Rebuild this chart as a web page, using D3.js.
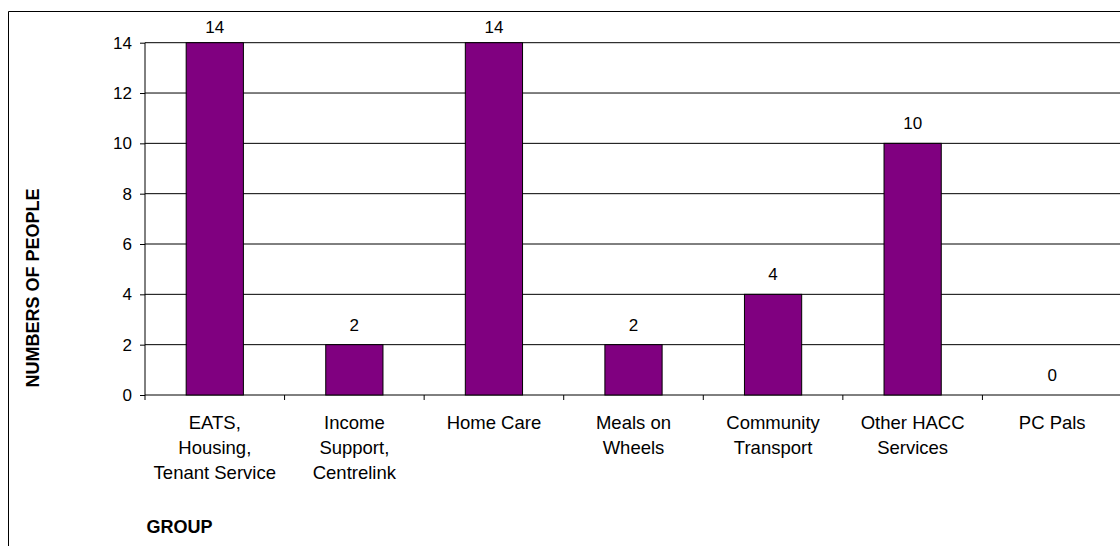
<!DOCTYPE html>
<html>
<head>
<meta charset="utf-8">
<script src="https://cdn.jsdelivr.net/npm/d3@7"></script>
<style>
  html, body { margin: 0; padding: 0; background: #fff; }
  svg { display: block; }
  text { font-family: "Liberation Sans", Arial, sans-serif; fill: #000; }
</style>
</head>
<body>
<svg id="chart" width="1120" height="546"></svg>
<script>
const categories = [
  "EATS, Housing, Tenant Service",
  "Income Support, Centrelink",
  "Home Care",
  "Meals on Wheels",
  "Community Transport",
  "Other HACC Services",
  "PC Pals"
];
const categoryLines = [
  ["EATS,", "Housing,", "Tenant Service"],
  ["Income", "Support,", "Centrelink"],
  ["Home Care"],
  ["Meals on", "Wheels"],
  ["Community", "Transport"],
  ["Other HACC", "Services"],
  ["PC Pals"]
];
const values = [14, 2, 14, 2, 4, 10, 0];
const yTicks = [0, 2, 4, 6, 8, 10, 12, 14];
const yTitle = "NUMBERS OF PEOPLE";
const xTitle = "GROUP";

const svg = d3.select("#chart");
const W = 1120, H = 546;

const plot = { left: 145, right: 1122, top: 42.7, bottom: 395 };

const x = d3.scaleBand().domain(categories).range([plot.left, plot.right]).padding(0);
const y = d3.scaleLinear().domain([0, 14]).range([plot.bottom, plot.top]);

// outer border (left + top visible)
svg.append("path")
  .attr("d", `M8.5,${H + 2} L8.5,11.5 L${W + 2},11.5`)
  .attr("fill", "none").attr("stroke", "#000").attr("stroke-width", 1);

// gridlines
svg.append("g").selectAll("line").data(yTicks.filter(d => d > 0)).join("line")
  .attr("x1", plot.left).attr("x2", plot.right)
  .attr("y1", d => y(d)).attr("y2", d => y(d))
  .attr("stroke", "#000").attr("stroke-width", 1);

// y axis
const yAxis = d3.axisLeft(y).tickValues(yTicks).tickSize(5).tickPadding(8).tickFormat(d3.format("d"));
const gy = svg.append("g").attr("transform", `translate(${plot.left},0)`).call(yAxis);
gy.select(".domain").attr("d", `M0,${plot.bottom}V${plot.top}`).attr("stroke", "#000");
gy.selectAll(".tick line").attr("stroke", "#000").attr("x2", -5);
gy.selectAll(".tick text").attr("font-size", "17px").attr("font-family", "Liberation Sans, Arial, sans-serif").attr("fill", "#000");

// x axis (ticks at band boundaries)
svg.append("line")
  .attr("x1", plot.left).attr("x2", plot.right)
  .attr("y1", plot.bottom).attr("y2", plot.bottom)
  .attr("stroke", "#000");
svg.append("g").selectAll("line").data(categories).join("line")
  .attr("x1", d => x(d)).attr("x2", d => x(d))
  .attr("y1", plot.bottom).attr("y2", plot.bottom + 5)
  .attr("stroke", "#000");

// bars
const barFrac = 0.41;
const bw = x.bandwidth() * barFrac;
svg.append("g").selectAll("rect").data(values).join("rect")
  .attr("x", (d, i) => x(categories[i]) + (x.bandwidth() - bw) / 2)
  .attr("width", bw)
  .attr("y", d => y(d))
  .attr("height", d => y(0) - y(d))
  .attr("fill", "#800080")
  .attr("stroke", "#000").attr("stroke-width", 1)
  .style("display", d => d > 0 ? null : "none");

// value labels
svg.append("g").selectAll("text").data(values).join("text")
  .attr("x", (d, i) => x(categories[i]) + x.bandwidth() / 2)
  .attr("y", d => Math.max(y(d) - 14, 33))
  .attr("text-anchor", "middle")
  .attr("font-size", "17px")
  .text(d => d);

// category labels
const cl = svg.append("g");
categoryLines.forEach((lines, i) => {
  const cx = x(categories[i]) + x.bandwidth() / 2;
  const t = cl.append("text").attr("text-anchor", "middle").attr("font-size", "18.5px");
  lines.forEach((ln, j) => {
    t.append("tspan").attr("x", cx).attr("y", 429 + j * 25).text(ln);
  });
});

// axis titles
svg.append("text")
  .attr("transform", `translate(38.5,${(188 + 388) / 2}) rotate(-90)`)
  .attr("text-anchor", "middle")
  .attr("font-size", "18px").attr("font-weight", "bold")
  .text(yTitle);

svg.append("text")
  .attr("x", 146.5).attr("y", 532.5)
  .attr("font-size", "18px").attr("font-weight", "bold")
  .text(xTitle);
</script>
</body>
</html>
